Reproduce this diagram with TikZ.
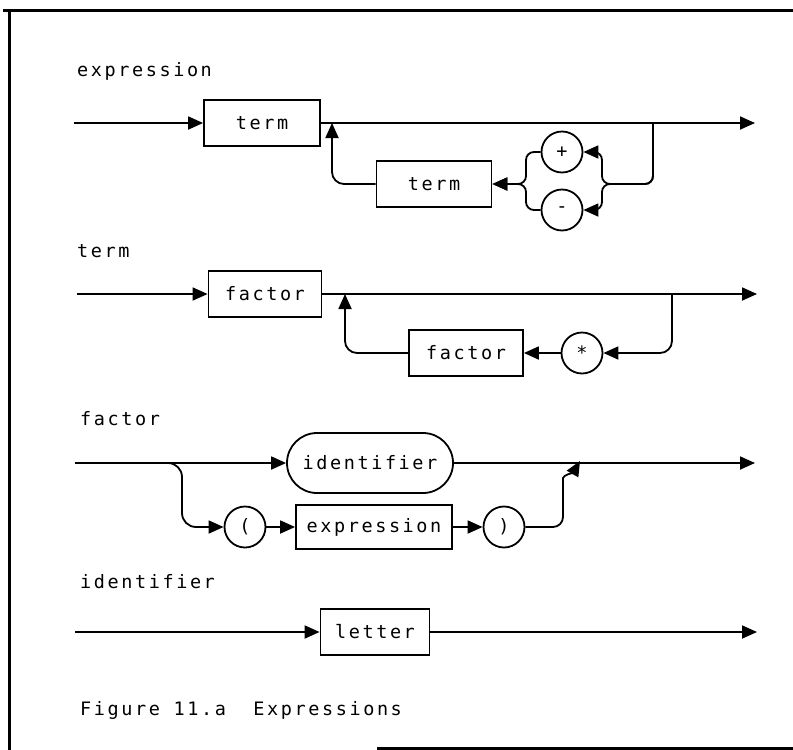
\documentclass[tikz,border=0pt]{standalone}
\usepackage{fontspec}
\newfontfamily\railfont{DejaVu Sans Mono}[LetterSpace=14]
\usetikzlibrary{arrows.meta}
\usetikzlibrary{shapes.misc}
\tikzset{
	box/.style={draw, line width=1.8pt, rectangle, minimum height=46pt, inner sep=0pt},
	rbox/.style={draw, line width=1.8pt, rounded rectangle, minimum height=60pt, minimum width=166pt, inner sep=0pt},
	circ/.style={draw, line width=1.8pt, circle, minimum size=41pt, inner sep=0pt},
	title/.style={anchor=base west, inner sep=0pt},
	link/.style={->, line width=1.8pt},
	frame/.style={line width=3pt}
}

\begin{document}
\begin{tikzpicture}[x=1pt, y=-1pt, >={Triangle[length=15pt, width=13pt]}, font=\railfont\fontsize{18.5}{20}\selectfont]

	\useasboundingbox (0,0) rectangle (793,750);

	\draw[frame] (3,10) -- (793,10);
	\draw[frame] (9,10) -- (9,750);
	\draw[frame] (377,748) -- (793,748);

	% expression
	\node[title] (t-expr) at (77,76) {expression};
	\coordinate (ex-in) at (74,123);
	\node[box, minimum width=116pt] (ex-term) at (262,123) {term};
	\coordinate (ex-l) at (332,123);
	\coordinate (ex-r) at (653,123);
	\coordinate (ex-out) at (755,123);
	\node[box, minimum width=115pt] (ex-term2) at (434,184) {term};
	\node[circ] (plus) at (562,152) {+};
	\node[circ] (minus) at (562,210) {-};
	\coordinate (ex-jl) at (526,184);
	\coordinate (ex-jr) at (602,184);

	% term
	\node[title] (t-term) at (77,257) {term};
	\coordinate (tm-in) at (77,294);
	\node[box, minimum width=113pt] (tm-fac) at (265,294) {factor};
	\coordinate (tm-l) at (345,294);
	\coordinate (tm-r) at (672,294);
	\coordinate (tm-out) at (757,294);
	\node[box, minimum width=114pt] (tm-fac2) at (466,353) {factor};
	\node[circ] (star) at (582,353) {*};

	% factor
	\node[title] (t-fac) at (80,425) {factor};
	\coordinate (fc-in) at (75,463);
	\coordinate (fc-b) at (150,463);
	\node[rbox] (ident) at (370,463) {identifier};
	\coordinate (fc-out) at (755,463);
	\coordinate (fc-d) at (182,527);
	\node[circ] (lpar) at (245,527) {(};
	\node[box, minimum width=156pt, minimum height=44pt] (fc-expr) at (374,527) {expression};
	\node[circ] (rpar) at (504,527) {)};
	\coordinate (fc-v) at (563,488);
	\coordinate (fc-m) at (580,461);

	% identifier
	\node[title] (t-ident) at (80,588) {identifier};
	\coordinate (id-in) at (75,632);
	\node[box, minimum width=109pt] (letter) at (375,632) {letter};
	\coordinate (id-out) at (757,632);

	\node[title] (caption) at (80,715) {Figure 11.a\ \ Expressions};

	\draw[link] (ex-in) -- (ex-term);
	\draw[link] (ex-term) -- (ex-out);
	\draw[link, rounded corners=8pt] (ex-r) |- (ex-jr) |- (plus);
	\draw[link, rounded corners=8pt] (ex-r) |- (ex-jr) |- (minus);
	\draw[link, rounded corners=8pt] (plus) -| (ex-jl) -- (ex-term2);
	\draw[link, rounded corners=8pt] (minus) -| (ex-jl) -- (ex-term2);
	\draw[link, rounded corners=12pt] (ex-term2) -| (ex-l);

	\draw[link] (tm-in) -- (tm-fac);
	\draw[link] (tm-fac) -- (tm-out);
	\draw[link, rounded corners=12pt] (tm-r) |- (star);
	\draw[link] (star) -- (tm-fac2);
	\draw[link, rounded corners=12pt] (tm-fac2) -| (tm-l);

	\draw[link] (fc-in) -- (ident);
	\draw[link] (ident) -- (fc-out);
	\draw[link, rounded corners=14pt] (fc-b) -| (fc-d) -- (lpar);
	\draw[link] (lpar) -- (fc-expr);
	\draw[link] (fc-expr) -- (rpar);
	\draw[link, rounded corners=10pt] (rpar) -| (fc-v) to[out=90, in=240] (fc-m);

	\draw[link] (id-in) -- (letter);
	\draw[link] (letter) -- (id-out);

\end{tikzpicture}
\end{document}
